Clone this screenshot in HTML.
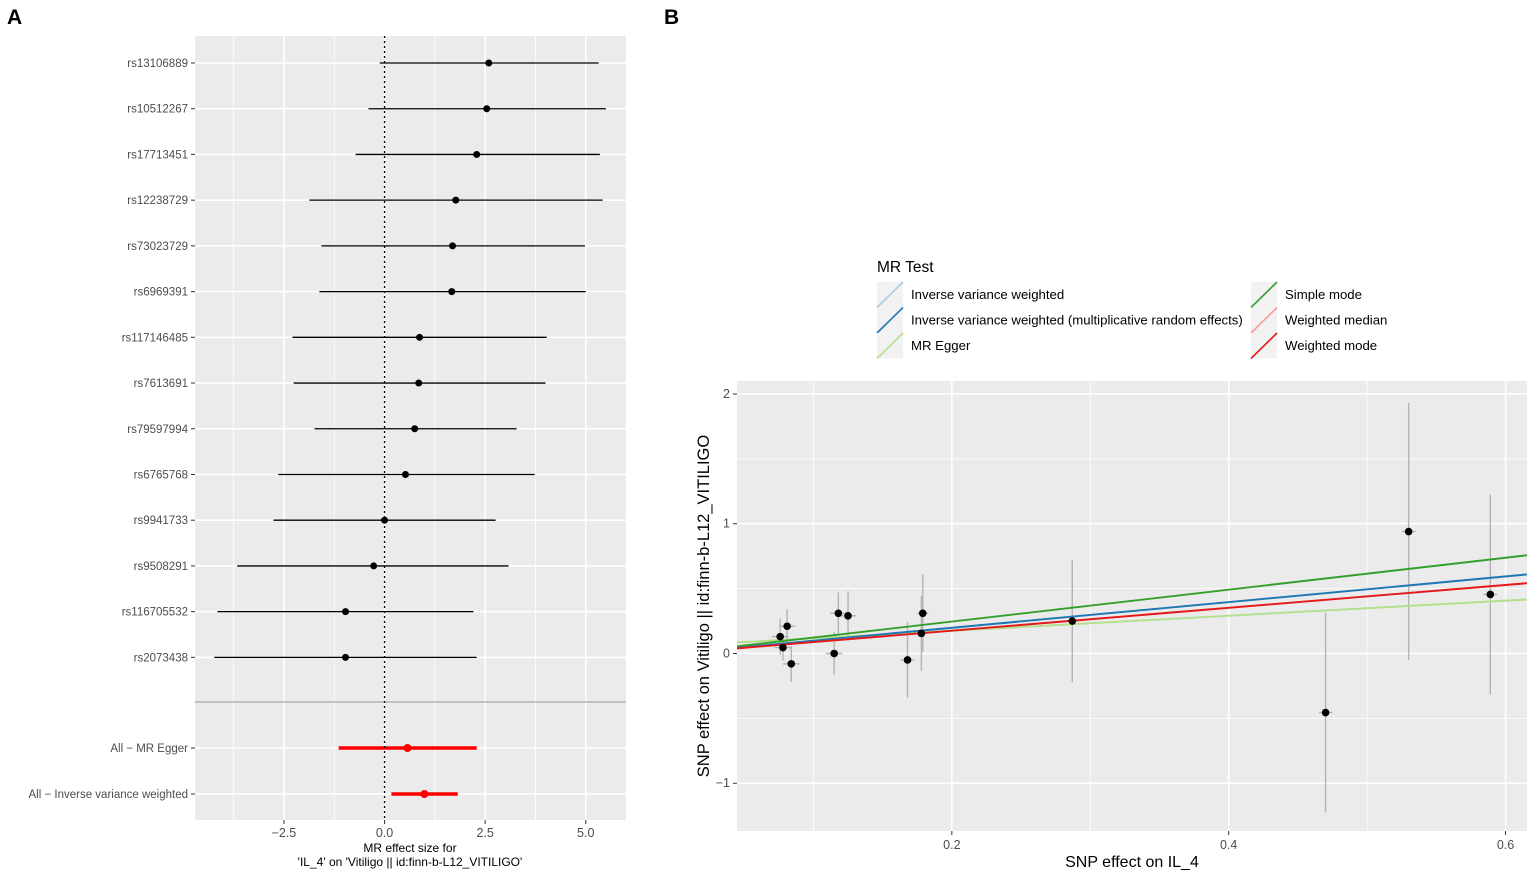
<!DOCTYPE html>
<html><head><meta charset="utf-8">
<style>
html,body{margin:0;padding:0;background:#fff;}
svg{display:block;font-family:"Liberation Sans",Arial,sans-serif;}
</style></head>
<body>
<svg id="fig" width="1535" height="876" viewBox="0 0 1535 876" xmlns="http://www.w3.org/2000/svg">
<text x="7" y="24" font-size="21" font-weight="bold">A</text>
<text x="664" y="24" font-size="21" font-weight="bold">B</text>
<g id="panelA"></g>
<g id="panelB"></g>
</svg>
<script>
const NS="http://www.w3.org/2000/svg";
function mk(p,tag,attrs,txt){const e=document.createElementNS(NS,tag);for(const k in attrs)e.setAttribute(k,attrs[k]);if(txt!==undefined)e.textContent=txt;p.appendChild(e);return e;}

// ---------- Panel A data ----------
const snpNames=["rs13106889","rs10512267","rs17713451","rs12238729","rs73023729","rs6969391","rs117146485","rs7613691","rs79597994","rs6765768","rs9941733","rs9508291","rs116705532","rs2073438"];
const snpEffect=[2.59,2.54,2.29,1.77,1.69,1.67,0.87,0.85,0.75,0.52,0.0,-0.27,-0.97,-0.97];
const snpLow=[-0.12,-0.40,-0.72,-1.87,-1.57,-1.62,-2.29,-2.26,-1.74,-2.64,-2.76,-3.66,-4.15,-4.23];
const snpHigh=[5.32,5.50,5.35,5.42,4.98,5.00,4.03,4.00,3.28,3.73,2.76,3.08,2.21,2.29];
const sumNames=["All \u2212 MR Egger","All \u2212 Inverse variance weighted"];
const sumEffect=[0.57,0.99];
const sumLow=[-1.14,0.17];
const sumHigh=[2.29,1.82];
const aTicks=[-2.5,0,2.5,5];
const aTickLabels=["\u22122.5","0.0","2.5","5.0"];

(function(){
const g=document.getElementById('panelA');
const L=195,R=626,T=36,B=820;
const xmin=-4.71,xmax=6.0;
const X=v=>L+(v-xmin)/(xmax-xmin)*(R-L);
const rowY=i=>63+i*45.72;
const sumY=i=>748+i*46;
const bg=mk(g,'rect',{x:L,y:T,width:R-L,height:B-T,fill:'#ebebeb'});

for(let v=-3.75;v<=6;v+=2.5){mk(g,'line',{x1:X(v),x2:X(v),y1:T,y2:B,stroke:'#fff','stroke-width':0.8});}
aTicks.forEach((v,i)=>{mk(g,'line',{x1:X(v),x2:X(v),y1:T,y2:B,stroke:'#fff','stroke-width':1.6});
 mk(g,'line',{x1:X(v),x2:X(v),y1:B,y2:B+4,stroke:'#333','stroke-width':1});
 const t=mk(g,'text',{x:X(v),y:B+17,'font-size':12.5,fill:'#4d4d4d','text-anchor':'middle'},aTickLabels[i]);
 });
const drawRow=(y,name,eff,lo,hi,col,w,r)=>{
 mk(g,'line',{x1:L,x2:R,y1:y,y2:y,stroke:'#fff','stroke-width':1.6});
 mk(g,'line',{x1:L-4,x2:L,y1:y,y2:y,stroke:'#333','stroke-width':1});
 const t=mk(g,'text',{x:L-7,y:y+4,'font-size':11.5,fill:'#4d4d4d','text-anchor':'end'},name);
 
 const l=mk(g,'line',{x1:X(lo),x2:X(hi),y1:y,y2:y,stroke:col,'stroke-width':w});
 
 const c=mk(g,'circle',{cx:X(eff),cy:y,r:r,fill:col});
 
};
snpNames.forEach((n,i)=>drawRow(rowY(i),n,snpEffect[i],snpLow[i],snpHigh[i],'#000',1.3,3.5));
sumNames.forEach((n,i)=>drawRow(sumY(i),n,sumEffect[i],sumLow[i],sumHigh[i],'#f00',3.4,4));
mk(g,'line',{x1:L,x2:R,y1:702,y2:702,stroke:'#b3b3b3','stroke-width':1.5});
const z=mk(g,'line',{x1:X(0),x2:X(0),y1:T,y2:B,stroke:'#000','stroke-width':1.3,'stroke-dasharray':'2,3'});

const t1=mk(g,'text',{x:410,y:852,'font-size':12,fill:'#000','text-anchor':'middle'},"MR effect size for");

mk(g,'text',{x:410,y:866,'font-size':12,fill:'#000','text-anchor':'middle'},"'IL_4' on 'Vitiligo || id:finn-b-L12_VITILIGO'");
})();

// ---------- Panel B data ----------
const exposureBeta=[0.076,0.078,0.081,0.084,0.115,0.118,0.125,0.168,0.178,0.179,0.287,0.470,0.530,0.589];
const outcomeBeta=[0.13,0.046,0.21,-0.08,0.0,0.31,0.29,-0.05,0.155,0.31,0.25,-0.455,0.94,0.455];
const outcomeSE=[0.14,0.10,0.13,0.14,0.165,0.16,0.19,0.29,0.29,0.30,0.47,0.77,0.99,0.77];
const exposureSE=[0.006,0.006,0.006,0.006,0.006,0.006,0.006,0.005,0.004,0.004,0.005,0.005,0.005,0.005];
const methodNames=["Inverse variance weighted","Inverse variance weighted (multiplicative random effects)","MR Egger","Simple mode","Weighted median","Weighted mode"];
const methodColors=["#a6cee3","#1f78b4","#b2df8a","#33a02c","#fb9a99","#e31a1c"];
const methodSlopes=[0.99,0.99,0.58,1.23,0.88,0.88];
const methodIntercepts=[0,0,0.059,0,0,0];
const bXTicks=[0.2,0.4,0.6];
const bYTicks=[-1,0,1,2];

(function(){
const g=document.getElementById('panelB');
const L=737,R=1527,T=381,B=831;
const xmin=0.0448,xmax=0.6155,ymin=-1.368,ymax=2.1;
const X=v=>L+(v-xmin)/(xmax-xmin)*(R-L);
const Y=v=>B-(v-ymin)/(ymax-ymin)*(B-T);
const bg=mk(g,'rect',{x:L,y:T,width:R-L,height:B-T,fill:'#ebebeb'});

[0.1,0.3,0.5].forEach(v=>mk(g,'line',{x1:X(v),x2:X(v),y1:T,y2:B,stroke:'#fff','stroke-width':0.8}));
[-0.5,0.5,1.5].forEach(v=>mk(g,'line',{x1:L,x2:R,y1:Y(v),y2:Y(v),stroke:'#fff','stroke-width':0.8}));
bXTicks.forEach(v=>{mk(g,'line',{x1:X(v),x2:X(v),y1:T,y2:B,stroke:'#fff','stroke-width':1.6});
 mk(g,'line',{x1:X(v),x2:X(v),y1:B,y2:B+4,stroke:'#333'});
 const t=mk(g,'text',{x:X(v),y:B+18,'font-size':12.5,fill:'#4d4d4d','text-anchor':'middle'},v.toFixed(1));
 });
bYTicks.forEach(v=>{mk(g,'line',{x1:L,x2:R,y1:Y(v),y2:Y(v),stroke:'#fff','stroke-width':1.6});
 mk(g,'line',{x1:L-4,x2:L,y1:Y(v),y2:Y(v),stroke:'#333'});
 const t=mk(g,'text',{x:L-7,y:Y(v)+4,'font-size':12.5,fill:'#4d4d4d','text-anchor':'end'},v<0?'\u22121':String(v));
 });
exposureBeta.forEach((x,i)=>{
 const e=mk(g,'line',{x1:X(x),x2:X(x),y1:Y(outcomeBeta[i]-outcomeSE[i]),y2:Y(outcomeBeta[i]+outcomeSE[i]),stroke:'#b3b3b3','stroke-width':1.4});
 
 const h=mk(g,'line',{x1:X(x-exposureSE[i]),x2:X(x+exposureSE[i]),y1:Y(outcomeBeta[i]),y2:Y(outcomeBeta[i]),stroke:'#b3b3b3','stroke-width':1.4});
 
});
const order=[0,4,2,1,5,3];
const cp=mk(g,'clipPath',{id:'clipB'});mk(cp,'rect',{x:L,y:T,width:R-L,height:B-T});
order.forEach(i=>{
 const l=mk(g,'line',{x1:X(xmin),x2:X(xmax),y1:Y(methodIntercepts[i]+methodSlopes[i]*xmin),y2:Y(methodIntercepts[i]+methodSlopes[i]*xmax),stroke:methodColors[i],'stroke-width':1.9,'clip-path':'url(#clipB)'});
 
});
exposureBeta.forEach((x,i)=>{
 const c=mk(g,'circle',{cx:X(x),cy:Y(outcomeBeta[i]),r:3.8,fill:'#000'});
 
});
const xt=mk(g,'text',{x:1132,y:867,'font-size':16,fill:'#000','text-anchor':'middle'},"SNP effect on IL_4");

const yt=mk(g,'text',{x:0,y:0,'font-size':16.5,fill:'#000','text-anchor':'middle',transform:'translate(709,606) rotate(-90)'},"SNP effect on Vitiligo || id:finn-b-L12_VITILIGO");

const lg=mk(g,'g',{});

const lt=mk(lg,'text',{x:877,y:272,'font-size':15.5,fill:'#000'},"MR Test");

methodNames.forEach((n,i)=>{
 const col=i<3?0:1, row=i%3;
 const kx=col?1251:877, ky=282+row*25.5;
 const e=mk(lg,'g',{});
 
 mk(e,'rect',{x:kx,y:ky,width:26,height:25.5,fill:'#f2f2f2'});
 mk(e,'line',{x1:kx,y1:ky+25.5,x2:kx+26,y2:ky,stroke:methodColors[i],'stroke-width':1.6});
 mk(e,'text',{x:kx+34,y:ky+17,'font-size':13.2,fill:'#000'},n);
});
})();
</script>
</body></html>
